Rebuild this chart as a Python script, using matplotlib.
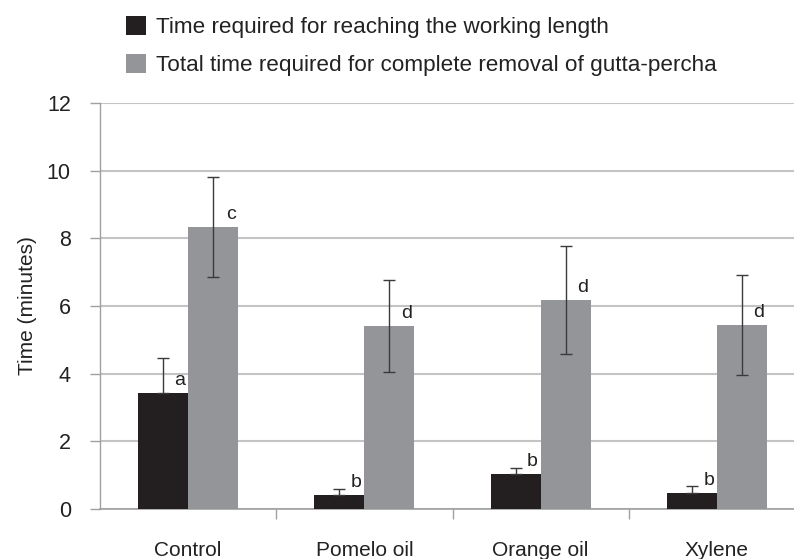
import matplotlib
matplotlib.use("Agg")
import matplotlib.pyplot as plt
from matplotlib.patches import Patch
import numpy as np

plt.rcParams["font.family"] = ["Liberation Sans", "DejaVu Sans"]

groups = ["Control", "Pomelo oil", "Orange oil", "Xylene"]
reach_time = [3.42, 0.42, 1.03, 0.48]
reach_sd = [1.05, 0.18, 0.19, 0.21]
total_time = [8.33, 5.40, 6.17, 5.43]
total_sd = [1.48, 1.36, 1.59, 1.48]
reach_letters = ["a", "b", "b", "b"]
total_letters = ["c", "d", "d", "d"]
legend_labels = ["Time required for reaching the working length",
                 "Total time required for complete removal of gutta-percha"]

dark = "#231f20"
grey = "#939598"
txt = "#222222"

fig = plt.figure(figsize=(7.94, 5.59), dpi=100)
ax = fig.add_axes([100 / 794, 50 / 559, 705 / 794, 406 / 559])

x = np.arange(len(groups))
w = 0.284

ax.bar(x - w / 2, reach_time, w, color=dark, zorder=3)
ax.bar(x + w / 2, total_time, w, color=grey, zorder=3)
# lower half of the dark bars' error bar is hidden inside the bar
ax.errorbar(x - w / 2, reach_time, yerr=[np.zeros(len(groups)), reach_sd], fmt="none",
            ecolor="#3a3a3a", elinewidth=1, capsize=4, capthick=1, zorder=4)
ax.errorbar(x + w / 2, total_time, yerr=total_sd, fmt="none", ecolor="#3a3a3a",
            elinewidth=1, capsize=4, capthick=1, zorder=4)

for i in range(len(groups)):
    ax.annotate(reach_letters[i], (x[i], reach_time[i]), xytext=(-2, 3),
                textcoords="offset points", fontsize=14, color=txt,
                ha="right", va="bottom", zorder=5)
    ax.annotate(total_letters[i], (x[i] + w, total_time[i]), xytext=(-2, 3),
                textcoords="offset points", fontsize=14, color=txt,
                ha="right", va="bottom", zorder=5)

ax.set_xlim(-0.5, 3.5)
ax.set_ylim(0, 12)
ax.set_yticks(range(0, 13, 2))
ax.yaxis.grid(True, color="#c4c4c4", linewidth=1.5, zorder=0)

ax.set_xticks([0.5, 1.5, 2.5])
ax.set_xticklabels([])
ax.set_xticks(x, minor=True)
ax.set_xticklabels(groups, minor=True, fontsize=15, color=txt)
ax.tick_params(axis="x", which="major", length=7, width=1, color="#a0a0a0", direction="out")
ax.tick_params(axis="x", which="minor", length=0, pad=23)
ax.tick_params(axis="y", length=7, width=1, color="#a0a0a0", pad=14,
               labelsize=15.5, labelcolor=txt)

for s in ["top", "right"]:
    ax.spines[s].set_visible(False)
ax.spines["left"].set_color("#a0a0a0")
ax.spines["bottom"].set_color("#a0a0a0")
ax.spines["left"].set_linewidth(1)
ax.spines["bottom"].set_linewidth(1.2)

ax.set_ylabel("Time (minutes)", fontsize=15, color=txt, labelpad=7)

handles = [Patch(facecolor=dark), Patch(facecolor=grey)]
fig.legend(handles, legend_labels, loc="upper left", bbox_to_anchor=(126 / 794, 1 - 16 / 559),
           frameon=False, fontsize=16.2, handlelength=0.89, handleheight=0.89,
           handletextpad=0.44, labelspacing=0.72, borderpad=0, borderaxespad=0,
           labelcolor=txt)

fig.savefig("out.png", dpi=100)
